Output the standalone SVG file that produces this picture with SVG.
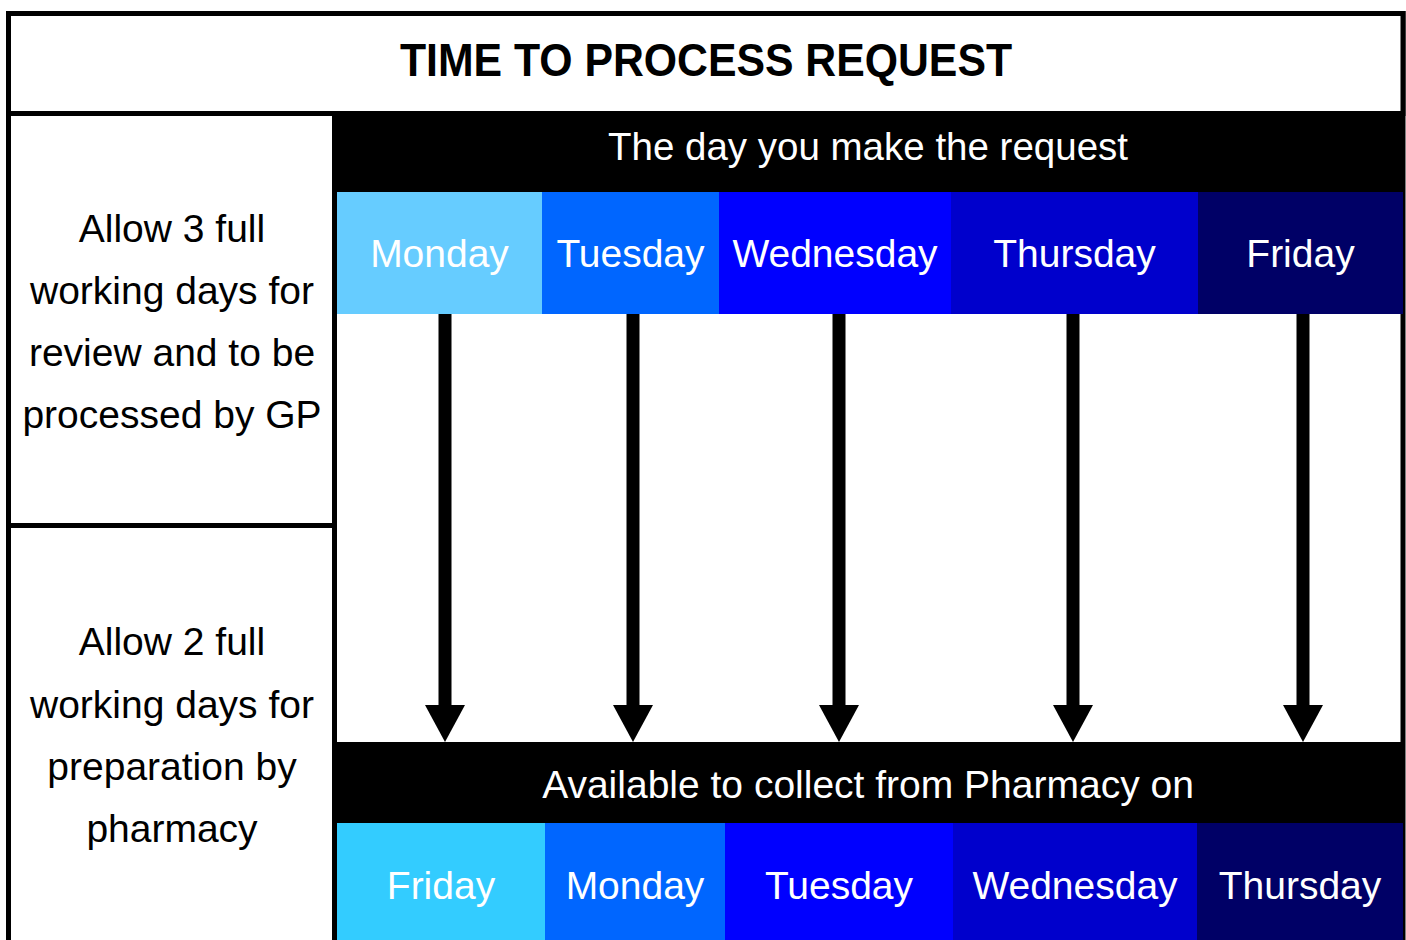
<svg xmlns="http://www.w3.org/2000/svg" width="1406" height="940" viewBox="0 0 1406 940">
  <style>
    .frame { fill: #ffffff; stroke: #000000; stroke-width: 5; }
    .band { fill: #000000; }
    .title { font-family: "Liberation Sans", Arial, sans-serif; font-weight: bold; font-size: 46px; fill: #000000; text-anchor: middle; }
    .side { font-family: "Liberation Sans", Arial, sans-serif; font-size: 39px; fill: #000000; text-anchor: middle; }
    .head { font-family: "Liberation Sans", Arial, sans-serif; font-size: 39px; fill: #ffffff; text-anchor: middle; }
    .day { font-family: "Liberation Sans", Arial, sans-serif; font-size: 39px; fill: #ffffff; text-anchor: middle; }
    .conn { stroke: #000000; stroke-width: 13; fill: none; marker-end: url(#arrow); }
  </style>
  <defs>
    <marker id="arrow" markerUnits="userSpaceOnUse" viewBox="0 -20 37 40" refX="0" refY="0" markerWidth="37" markerHeight="40" orient="auto">
      <path d="M0,-20 L37,0 L0,20 Z" fill="#000000"/>
    </marker>
  </defs>

  <rect x="0" y="0" width="1406" height="940" fill="#ffffff"/>

  <!-- right frame line -->
  <line x1="1403" y1="11" x2="1403" y2="940" stroke="#000000" stroke-width="5"/>

  <g id="title-box">
    <rect class="frame" x="8.5" y="13.5" width="1394.5" height="100"/>
    <text class="title" x="706" y="76" textLength="612" lengthAdjust="spacingAndGlyphs">TIME TO PROCESS REQUEST</text>
  </g>

  <g id="review-box">
    <rect class="frame" x="8.5" y="113.5" width="326" height="412"/>
    <text class="side" x="172" y="242">Allow 3 full</text>
    <text class="side" x="172" y="304">working days for</text>
    <text class="side" x="172" y="366">review and to be</text>
    <text class="side" x="172" y="428">processed by GP</text>
  </g>

  <g id="prep-box">
    <rect class="frame" x="8.5" y="525.5" width="326" height="418"/>
    <text class="side" x="172" y="655">Allow 2 full</text>
    <text class="side" x="172" y="718">working days for</text>
    <text class="side" x="172" y="780">preparation by</text>
    <text class="side" x="172" y="842">pharmacy</text>
  </g>

  <g id="request-header">
    <rect class="band" x="334" y="111" width="1069" height="81"/>
    <text class="head" x="868" y="160" style="font-size:38.5px">The day you make the request</text>
  </g>

  <g id="req-monday">
    <rect x="337" y="192" width="205" height="122" fill="#66CCFF"/>
    <text class="day" x="439.5" y="267">Monday</text>
  </g>
  <g id="req-tuesday">
    <rect x="542" y="192" width="177" height="122" fill="#0066FF"/>
    <text class="day" x="630.5" y="267">Tuesday</text>
  </g>
  <g id="req-wednesday">
    <rect x="719" y="192" width="232" height="122" fill="#0000FF"/>
    <text class="day" x="835" y="267">Wednesday</text>
  </g>
  <g id="req-thursday">
    <rect x="951" y="192" width="247" height="122" fill="#0000CC"/>
    <text class="day" x="1074.5" y="267">Thursday</text>
  </g>
  <g id="req-friday">
    <rect x="1198" y="192" width="205" height="122" fill="#000066"/>
    <text class="day" x="1300.5" y="267">Friday</text>
  </g>

  <g id="connectors">
    <line class="conn" x1="445" y1="314" x2="445" y2="705"/>
    <line class="conn" x1="633" y1="314" x2="633" y2="705"/>
    <line class="conn" x1="839" y1="314" x2="839" y2="705"/>
    <line class="conn" x1="1073" y1="314" x2="1073" y2="705"/>
    <line class="conn" x1="1303" y1="314" x2="1303" y2="705"/>
  </g>

  <g id="collect-header">
    <rect class="band" x="337" y="742" width="1066" height="81"/>
    <text class="head" x="868" y="798">Available to collect from Pharmacy on</text>
  </g>

  <g id="col-friday">
    <rect x="337" y="823" width="208" height="117" fill="#33CCFF"/>
    <text class="day" x="441" y="899">Friday</text>
  </g>
  <g id="col-monday">
    <rect x="545" y="823" width="180" height="117" fill="#0066FF"/>
    <text class="day" x="635" y="899">Monday</text>
  </g>
  <g id="col-tuesday">
    <rect x="725" y="823" width="228" height="117" fill="#0000FF"/>
    <text class="day" x="839" y="899">Tuesday</text>
  </g>
  <g id="col-wednesday">
    <rect x="953" y="823" width="244" height="117" fill="#0000CC"/>
    <text class="day" x="1075" y="899">Wednesday</text>
  </g>
  <g id="col-thursday">
    <rect x="1197" y="823" width="206" height="117" fill="#000066"/>
    <text class="day" x="1300" y="899">Thursday</text>
  </g>
</svg>
